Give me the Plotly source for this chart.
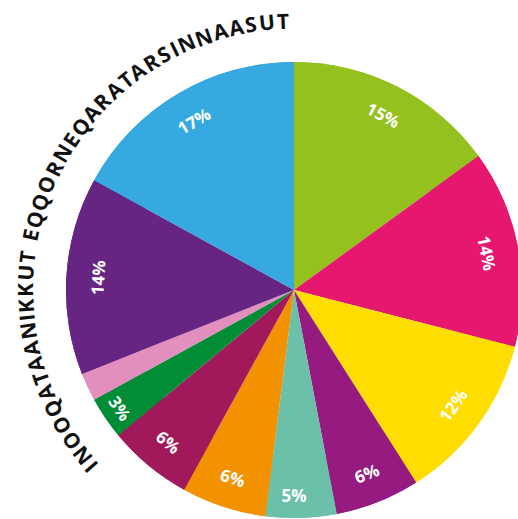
import math
import plotly.graph_objects as go

# Data
categories = ["Lime", "Magenta", "Yellow", "Violet", "Teal", "Orange",
              "Crimson", "Dark green", "Pink", "Purple", "Blue"]
values = [15, 14, 12, 6, 5, 6, 6, 3, 2, 14, 17]
labels_text = ["15%", "14%", "12%", "6%", "5%", "6%", "6%", "3%", "", "14%", "17%"]
colors = ["#95C11F", "#E6176F", "#FFDD00", "#951B81", "#6BC0A9", "#F39200",
          "#A2195B", "#008D36", "#E28FBE", "#662483", "#36A9E1"]
title_text = "INOOQATAANIKKUT EQQORNEQARATARSINNAASUT"

# page body margin is removed below, so figure pixels == page pixels
W, H = 526, 519
cx, cy = 294, 290      # pie centre in pixels
R = 228

dom = dict(x=[(cx - R) / W, (cx + R) / W], y=[(H - cy - R) / H, (H - cy + R) / H])

fig = go.Figure()
# full pie (colours only)
fig.add_trace(go.Pie(
    labels=categories, values=values, textinfo="none",
    sort=False, direction="clockwise", rotation=0,
    marker=dict(colors=colors, line=dict(width=0)),
    hoverinfo="label+value", showlegend=False, domain=dom,
))
# ring on top carrying the percentage labels near the rim
fig.add_trace(go.Pie(
    labels=categories, values=values, text=labels_text, hole=0.74,
    textinfo="text", sort=False, direction="clockwise", rotation=0,
    marker=dict(colors=colors, line=dict(width=0)),
    insidetextorientation="tangential", textposition="inside",
    textfont=dict(family="Open Sans", size=17, color="white", weight="bold"),
    hoverinfo="skip", showlegend=False, domain=dom,
))

# Curved title along an arc, letters spaced by their approximate widths
adv = {"I": .305, "N": .787, "O": .786, "Q": .786, "A": .677, "T": .566,
       "K": .644, "U": .762, "E": .544, "R": .669, "S": .561, " ": .30}
track = 0.10
centres = []
pos = 0.0
for ch in title_text:
    w = adv[ch]
    centres.append(pos + w / 2)
    pos += w + track
a0, a1 = 229.0, 357.7
rt = 269
span = centres[-1] - centres[0]
annotations = []
for ch, c in zip(title_text, centres):
    if ch == " ":
        continue
    ang = a0 + (a1 - a0) * (c - centres[0]) / span
    t = math.radians(ang)
    px = cx + rt * math.sin(t)
    py = cy - rt * math.cos(t)
    annotations.append(dict(
        x=px / W, y=1 - py / H, xref="paper", yref="paper",
        text=ch, showarrow=False, textangle=ang - 360,
        xanchor="center", yanchor="middle",
        font=dict(family="Open Sans", size=21, color="#111111", weight="bold"),
    ))

fig.update_layout(
    width=W, height=H, margin=dict(l=0, r=0, t=0, b=0),
    paper_bgcolor="white", plot_bgcolor="white",
    annotations=annotations,
)
fig.write_html(
    "out.html",
    config={"displayModeBar": False},
    post_script="document.body.style.margin='0';"
                "document.documentElement.style.overflow='hidden';",
)
